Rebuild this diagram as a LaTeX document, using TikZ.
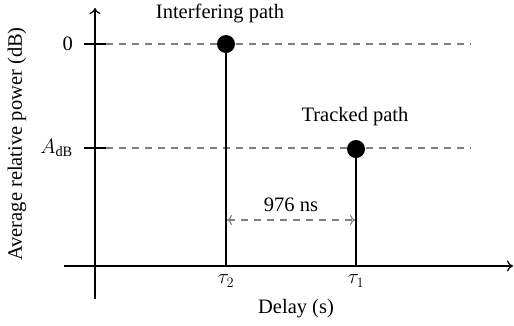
\documentclass[tikz,border=0pt]{standalone}
\usepackage{fontspec}
\setmainfont{Liberation Serif}
\usetikzlibrary{arrows.meta}
\begin{document}
\begin{tikzpicture}[x=1pt,y=-1pt,
  axis/.style={line width=1.2pt,-{To[length=6pt,width=11pt]}},
  tick/.style={line width=1.2pt},
  guide/.style={line width=1.1pt,draw=black!50,dash pattern=on 7pt off 6pt},
  stem/.style={line width=1.2pt},
  dot/.style={circle,fill=black,inner sep=0pt,minimum size=18pt},
  span/.style={line width=1.1pt,draw=black!50,dash pattern=on 7pt off 6pt,{To[length=5pt,width=10pt]}-{To[length=5pt,width=10pt]}},
  lbl/.style={font=\fontsize{20.5}{24}\selectfont,inner sep=0pt}]
\useasboundingbox (0,0) rectangle (514,325);
% axes
\coordinate (ybot) at (95,299);
\coordinate (ytop) at (95,8);
\coordinate (xleft) at (64,266);
\coordinate (xright) at (513,266);
\draw[axis] (ybot) -- (ytop);
\draw[axis] (xleft) -- (xright);
% ticks
\coordinate (t0a) at (84,44); \coordinate (t0b) at (106,44);
\coordinate (tAa) at (84,148); \coordinate (tAb) at (106,148);
\draw[tick] (t0a) -- (t0b);
\draw[tick] (tAa) -- (tAb);
% guide lines
\coordinate (g0) at (471,44);
\coordinate (gA) at (471,148);
\draw[guide] (t0b) -- (g0);
\draw[guide] (tAb) -- (gA);
% paths
\node[dot] (p2) at (226,44) {};
\node[dot] (p1) at (356,149) {};
\coordinate (b2) at (226,266);
\coordinate (b1) at (356,266);
\draw[stem] (p2.center) -- (b2);
\draw[stem] (p1.center) -- (b1);
% delay span
\coordinate (s2) at (227,220);
\coordinate (s1) at (355,220);
\draw[span] (s2) -- (s1);
% labels
\node[lbl,anchor=east] (l0) at (73,44) {0};
\node[lbl,anchor=east] (lA) at (73,148) {$A_{\mathrm{dB}}$};
\node[lbl] (lint) at (220,13) {Interfering path};
\node[lbl] (ltr) at (355,117) {Tracked path};
\node[lbl] (lns) at (291,205) {976 ns};
\node[lbl] (tau2) at (226,281) {$\tau_2$};
\node[lbl] (tau1) at (356,281) {$\tau_1$};
\node[lbl] (lx) at (296,309) {Delay (s)};
\node[lbl,rotate=90] (ly) at (17,144) {Average relative power (dB)};
\end{tikzpicture}
\end{document}
